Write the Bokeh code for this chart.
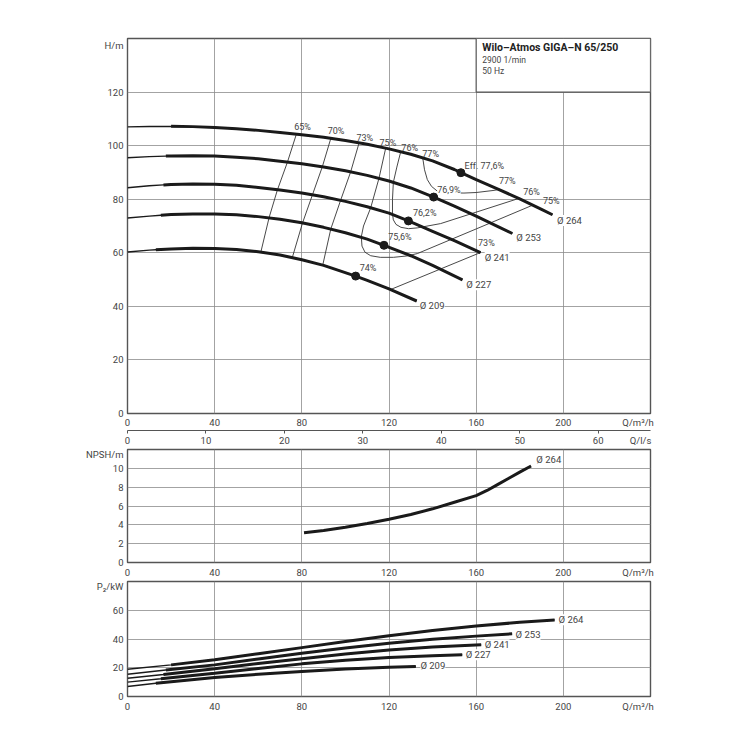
import numpy as np
from bokeh.plotting import figure
from bokeh.models import Range1d, LinearAxis, FixedTicker, Label
from bokeh.layouts import column
from bokeh.embed import file_html
from bokeh.resources import INLINE

FONT = "Roboto"
INK = "#1a1a1a"
THIN = "#333333"
GRID = "#8c8c8c"
FRAME = "#555555"
TXT = "#444444"
DARK = "#222222"

# ---------------- data ----------------
q_ticks = [0, 40, 80, 120, 160, 200]
ls_ticks = [0, 10, 20, 30, 40, 50, 60]
h_ticks = [0, 20, 40, 60, 80, 100, 120]
npsh_ticks = [0, 2, 4, 6, 8, 10]
p2_ticks = [0, 20, 40, 60]

diam_labels = ["Ø 264", "Ø 253", "Ø 241", "Ø 227", "Ø 209"]
q_min = [20, 17.6, 16.5, 15.3, 13]

# H(Q) curves
q_h264 = [0, 10, 20, 30, 40, 50, 60, 70, 80, 90, 100, 110, 120, 130, 140, 150, 153, 160, 170, 180, 190, 195]
h_h264 = [107.0, 107.15, 107.2, 107.1, 106.8, 106.3, 105.7, 104.95, 104.1, 103.1, 101.95, 100.5, 98.8, 96.8, 94.3, 91.1, 89.9, 87.3, 83.8, 80.1, 76.2, 74.2]
q_h253 = [0, 10, 17.6, 20, 30, 40, 50, 60, 70, 80, 90, 100, 110, 120, 130, 140.5, 150, 160, 170, 176.6]
h_h253 = [95.5, 95.9, 96.1, 96.15, 96.2, 96.1, 95.7, 95.1, 94.2, 93.2, 92.0, 90.6, 88.9, 86.8, 84.2, 80.8, 77.4, 73.7, 69.8, 67.2]
q_h241 = [0, 10, 16.5, 20, 30, 40, 50, 60, 70, 80, 90, 100, 110, 120, 128.9, 140, 150, 162]
h_h241 = [84.3, 85.0, 85.35, 85.5, 85.65, 85.6, 85.2, 84.4, 83.4, 82.3, 80.9, 79.2, 77.2, 74.8, 71.9, 68.0, 64.5, 60.1]
q_h227 = [0, 10, 15.3, 20, 30, 40, 50, 60, 70, 80, 90, 100, 110, 117.7, 130, 140, 153.7]
h_h227 = [73.0, 73.7, 74.0, 74.25, 74.5, 74.5, 74.2, 73.5, 72.5, 71.2, 69.5, 67.5, 65.1, 62.8, 58.9, 55.3, 49.9]
q_h209 = [0, 10, 13, 20, 30, 40, 50, 60, 70, 80, 90, 104.7, 110, 120, 132.7]
h_h209 = [60.3, 61.0, 61.15, 61.45, 61.65, 61.6, 61.2, 60.4, 59.2, 57.4, 55.3, 51.3, 49.7, 46.5, 42.0]

# best efficiency points
bep_q = [153, 140.5, 128.9, 117.7, 104.7]
bep_h = [89.9, 80.8, 71.9, 62.8, 51.3]

# iso-efficiency lines
eta65_q = [77.5, 73.4, 68.8, 65.0, 61.2]
eta65_h = [104.3, 93.85, 83.5, 73.2, 60.3]
eta70_q = [93.3, 89.4, 84.9, 80.3, 75.7]
eta70_h = [102.7, 92.1, 81.7, 71.1, 58.4]
eta73_q = [106.3, 102.4, 97.8, 93.3, 89.6]
eta73_h = [101.1, 90.2, 79.6, 68.9, 55.4]
eta75_q = [118.5, 115.4, 111.6, 108.3, 107.3, 107.6, 109.0, 111.6, 116.0, 122.0, 128.0, 133.0, 160.0, 186.0]
eta75_h = [99.1, 87.8, 76.8, 70.0, 66.0, 62.5, 60.2, 58.9, 58.3, 58.3, 58.8, 59.7, 68.9, 77.8]
eta76_q = [125.4, 123.6, 122.0, 121.6, 121.6, 122.0, 123.2, 125.5, 129.0, 133.0, 143.7, 179.6]
eta76_h = [97.8, 92.0, 86.3, 80.0, 74.5, 72.3, 70.6, 69.5, 69.0, 69.3, 70.9, 80.3]
eta77_q = [135.5, 136.3, 137.6, 139.5, 142.2, 146.0, 154.4, 160.0, 168.2, 170.8]
eta77_h = [95.3, 91.0, 87.3, 84.8, 83.0, 82.4, 82.3, 82.5, 83.3, 83.7]
eta73r_q = [120.8, 162.0]
eta73r_h = [46.3, 60.1]

eff_text = ["65%", "70%", "73%", "75%", "76%", "77%", "77%", "76%", "75%", "73%", "74%", "75,6%", "76,2%"]
eff_q = [80.3, 95.7, 108.9, 119.5, 129.5, 139.1, 174.3, 185.4, 194.5, 164.7, 110.4, 125.0, 136.4]
eff_h = [106.9, 105.3, 103.0, 101.1, 99.2, 96.7, 86.7, 82.7, 79.3, 63.6, 54.3, 65.9, 74.8]
bep_main_text = "Eff. 77,6%"
bep_main_pos = (154.7, 92.5)
mid_text = "76,9%"
mid_pos = (147.5, 83.6)

h_lab_q = [197.1, 178.4, 163.9, 155.5, 134.1]
h_lab_h = [72.1, 65.7, 58.2, 48.1, 40.3]

# NPSH
q_npsh = [81, 90, 100, 110, 120, 130, 140, 150, 160, 165, 170, 175, 180, 185.2]
npsh_264 = [3.15, 3.4, 3.75, 4.15, 4.6, 5.1, 5.7, 6.4, 7.1, 7.65, 8.3, 8.95, 9.6, 10.25]
npsh_lab = (187.6, 10.95)

# P2
q_p264 = [0, 20, 40, 60, 80, 100, 120, 140, 160, 180, 196]
p_p264 = [19.0, 22.0, 25.6, 29.8, 34.0, 38.2, 42.2, 45.9, 49.1, 51.6, 53.3]
q_p253 = [0, 17.6, 40, 60, 80, 100, 120, 140, 160, 176.5]
p_p253 = [15.5, 18.4, 22.0, 26.1, 30.1, 33.8, 37.1, 39.9, 42.0, 43.6]
q_p241 = [0, 16.5, 40, 60, 80, 100, 120, 140, 162.3]
p_p241 = [12.7, 15.3, 19.3, 22.9, 26.2, 29.5, 32.3, 34.4, 36.0]
q_p227 = [0, 15.3, 40, 60, 80, 100, 120, 140, 153.6]
p_p227 = [10.0, 12.3, 16.2, 19.5, 22.7, 25.2, 27.1, 28.4, 29.0]
q_p209 = [0, 13, 40, 60, 80, 100, 120, 132.3]
p_p209 = [7.0, 9.2, 13.2, 15.5, 17.4, 19.1, 20.4, 20.9]
p_lab_q = [197.8, 178.1, 163.9, 155.2, 134.4]
p_lab_p = [53.4, 42.9, 36.0, 29.0, 21.4]

title_lines = ["Wilo–Atmos GIGA–N 65/250", "2900 1/min", "50 Hz"]

# axis captions (shown as the outermost tick label of each axis)
h_caption = ("H/m", 137.5)
npsh_caption = ("NPSH/m", 11.6)
p2_caption = ("P₂/kW", 76.5)
q_caption = ("Q/m³/h", 234.3)
ls_caption = ("Q/l/s", 65.4)


# ---------------- helpers ----------------
def style_axis(ax, standoff):
    ax.axis_line_color = None
    ax.major_tick_line_color = None
    ax.minor_tick_line_color = None
    ax.major_tick_out = 0
    ax.major_tick_in = 0
    ax.minor_tick_out = 0
    ax.minor_tick_in = 0
    ax.major_label_text_font = FONT
    ax.major_label_text_font_size = "9.5px"
    ax.major_label_text_color = TXT
    ax.major_label_standoff = standoff


def ticker_with_caption(ticks, caption):
    text, pos = caption
    return FixedTicker(ticks=list(ticks) + [pos]), {pos: text}


def base_fig(frame_h, y_max, yticks, ycap, b_top, b_bottom, x_standoff=4):
    p = figure(frame_width=523, frame_height=frame_h,
               x_range=Range1d(0, 240), y_range=Range1d(0, y_max),
               output_backend="svg", toolbar_location=None,
               min_border_left=127, min_border_right=50,
               min_border_top=b_top, min_border_bottom=b_bottom)
    p.outline_line_color = FRAME
    p.outline_line_width = 1.4
    p.background_fill_color = "white"
    p.border_fill_color = "white"
    p.xgrid.ticker = FixedTicker(ticks=q_ticks)
    p.ygrid.ticker = FixedTicker(ticks=yticks)
    for g in (p.xgrid[0], p.ygrid[0]):
        g.grid_line_color = GRID
        g.grid_line_width = 0.8
    xa = p.below[0]
    ya = p.left[0]
    xa.ticker, xa.major_label_overrides = ticker_with_caption(q_ticks, q_caption)
    ya.ticker, ya.major_label_overrides = ticker_with_caption(yticks, ycap)
    style_axis(xa, x_standoff)
    style_axis(ya, 4)
    return p


def label(p, x, y, text, align="left", size="9.5px", style="normal", bg=None, color=TXT):
    lab = Label(x=x, y=y, text=text, text_align=align, text_baseline="middle",
                text_font=FONT, text_font_size=size, text_font_style=style,
                text_color=color)
    if bg:
        lab.background_fill_color = bg
    p.add_layout(lab)


def draw_curve(p, q, v, qmin):
    q = np.asarray(q, dtype=float)
    v = np.asarray(v, dtype=float)
    p.line(q, v, line_width=1.4, color=INK)
    m = q >= qmin
    p.line(q[m], v[m], line_width=3, color=INK)


# ---------------- H panel ----------------
p1 = base_fig(375, 140, h_ticks, h_caption, 38, 30, x_standoff=3)
p1.extra_x_ranges = {"ls": Range1d(0, 240 / 3.6)}
ls_major, ls_over = ticker_with_caption(ls_ticks, ls_caption)
ax_ls = LinearAxis(x_range_name="ls",
                   ticker=FixedTicker(ticks=ls_major.ticks, minor_ticks=ls_ticks),
                   major_label_overrides=ls_over)
ax_ls.axis_line_color = FRAME
ax_ls.axis_line_width = 1.2
ax_ls.major_tick_line_color = None
ax_ls.major_tick_out = 0
ax_ls.major_tick_in = 0
ax_ls.minor_tick_line_color = FRAME
ax_ls.minor_tick_out = 3
ax_ls.minor_tick_in = 0
ax_ls.major_label_standoff = 1
ax_ls.major_label_text_font = FONT
ax_ls.major_label_text_font_size = "9.5px"
ax_ls.major_label_text_color = TXT
p1.add_layout(ax_ls, "below")

p1.quad(left=160, right=240, bottom=120, top=140, fill_color="white",
        line_color=FRAME, line_width=1.2)

for (qx, hy) in [(eta65_q, eta65_h), (eta70_q, eta70_h), (eta73_q, eta73_h),
                 (eta75_q, eta75_h), (eta76_q, eta76_h), (eta77_q, eta77_h),
                 (eta73r_q, eta73r_h)]:
    p1.line(qx, hy, line_width=0.9, color=THIN)

curves_h = [(q_h264, h_h264), (q_h253, h_h253), (q_h241, h_h241),
            (q_h227, h_h227), (q_h209, h_h209)]
for (q, h), qm in zip(curves_h, q_min):
    draw_curve(p1, q, h, qm)

p1.scatter(bep_q, bep_h, size=8, color=INK)

for t, x, y in zip(eff_text, eff_q, eff_h):
    label(p1, x, y, t, align="center", size="9px")
label(p1, bep_main_pos[0], bep_main_pos[1], bep_main_text, size="9px")
label(p1, mid_pos[0], mid_pos[1], mid_text, align="center", size="9px", bg="white")

for t, x, y in zip(diam_labels, h_lab_q, h_lab_h):
    label(p1, x, y, t, size="9.5px", bg="white")

label(p1, 162.8, 136.8, title_lines[0], size="10.5px", style="bold", color=DARK)
label(p1, 162.8, 132.1, title_lines[1], size="8.5px")
label(p1, 162.8, 127.8, title_lines[2], size="8.5px")

# ---------------- NPSH panel ----------------
p2 = base_fig(113, 12, npsh_ticks, npsh_caption, 1, 17)
p2.line(q_npsh, npsh_264, line_width=3, color=INK)
label(p2, npsh_lab[0], npsh_lab[1], "Ø 264")

# ---------------- P2 panel ----------------
p3 = base_fig(115, 80, p2_ticks, p2_caption, 1, 20)
curves_p = [(q_p264, p_p264), (q_p253, p_p253), (q_p241, p_p241),
            (q_p227, p_p227), (q_p209, p_p209)]
for (q, v), qm in zip(curves_p, q_min):
    draw_curve(p3, q, v, qm)
for t, x, y in zip(diam_labels, p_lab_q, p_lab_p):
    label(p3, x, y, t, bg="white")

layout = column(p1, p2, p3)
open("out.html", "w").write(file_html(layout, INLINE))
